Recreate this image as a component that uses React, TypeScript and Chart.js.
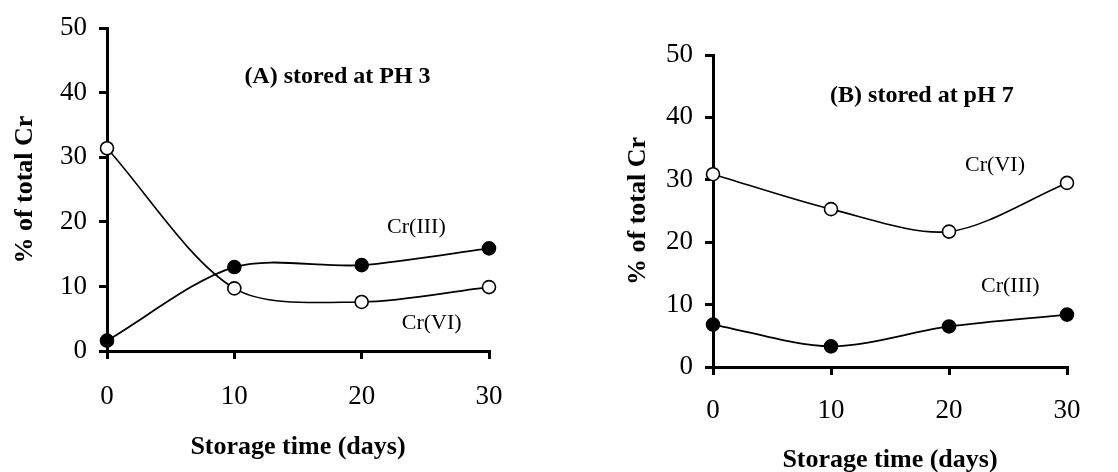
import React, { useEffect, useRef } from 'react';
import { Chart, registerables } from 'chart.js';
Chart.register(...registerables);

const days = [0, 10, 20, 30];
const crVI_A = [31.4, 9.7, 7.6, 9.9];
const crIII_A = [1.6, 13.0, 13.3, 15.9];
const crVI_B = [30.9, 25.3, 21.7, 29.5];
const crIII_B = [6.8, 3.3, 6.5, 8.4];
const yTickValues = [0, 10, 20, 30, 40, 50];
const xTickValues = [0, 10, 20, 30];

const FAMILY = "'Liberation Serif', 'DejaVu Serif', serif";

const textPlugin = {
  id: 'panelText',
  afterDatasetsDraw(chart: any, _args: any, opts: any) {
    const { ctx, scales } = chart;
    const x = scales.x, y = scales.y;
    ctx.save();
    ctx.fillStyle = '#000';
    ctx.textAlign = 'center';
    ctx.textBaseline = 'middle';
    for (const t of opts.items || []) {
      ctx.font = `${t.bold ? 'bold ' : ''}${t.size}px ${FAMILY}`;
      ctx.fillText(t.text, x.getPixelForValue(t.x), y.getPixelForValue(t.y));
    }
    ctx.restore();
  },
};

type Panel = {
  left: number;
  width: number;
  height: number;
  area: { left: number; right: number; top: number; bottom: number };
  vi: number[];
  iii: number[];
  texts: any[];
  yTitlePad: number;
  xTitlePad: number;
  xTickPad: number;
  yTickPad: number;
};

const panels: Panel[] = [
  {
    left: 0, width: 530, height: 472,
    area: { left: 107, right: 489, top: 26, bottom: 351 },
    vi: crVI_A, iii: crIII_A,
    texts: [
      { text: '(A) stored at PH 3', x: 18.1, y: 42.5, size: 24, bold: true },
      { text: 'Cr(III)', x: 24.3, y: 19.2, size: 22 },
      { text: 'Cr(VI)', x: 25.5, y: 4.3, size: 22 },
    ],
    yTitlePad: 12, xTitlePad: 12, xTickPad: 22, yTickPad: 12,
  },
  {
    left: 560, width: 558, height: 472,
    area: { left: 153, right: 507, top: 55, bottom: 367 },
    vi: crVI_B, iii: crIII_B,
    texts: [
      { text: '(B) stored at pH 7', x: 17.7, y: 43.5, size: 24, bold: true },
      { text: 'Cr(VI)', x: 23.9, y: 32.3, size: 22 },
      { text: 'Cr(III)', x: 25.2, y: 12.9, size: 22 },
    ],
    yTitlePad: 65, xTitlePad: -1, xTickPad: 20, yTickPad: 12,
  },
];

function PanelChart({ p }: { p: Panel }) {
  const ref = useRef<HTMLCanvasElement>(null);
  useEffect(() => {
    if (!ref.current) return;
    const grid = {
      drawOnChartArea: false,
      drawTicks: true,
      tickLength: 8,
      tickWidth: 3,
      tickColor: '#000',
      color: '#000',
      lineWidth: 3,
    };
    const border = { display: true, color: '#000', width: 3 };
    const mk = (vals: number[]) => days.map((d, i) => ({ x: d, y: vals[i] }));
    const chart = new Chart(ref.current, {
      type: 'line',
      data: {
        datasets: [
          {
            label: 'Cr(VI)',
            data: mk(p.vi),
            borderColor: '#000',
            borderWidth: 1.6,
            tension: 0.3,
            pointRadius: 6.5,
            pointBackgroundColor: '#fff',
            pointBorderColor: '#000',
            pointBorderWidth: 1.6,
            clip: false as any,
          },
          {
            label: 'Cr(III)',
            data: mk(p.iii),
            borderColor: '#000',
            borderWidth: 1.8,
            tension: 0.3,
            pointRadius: 6.5,
            pointBackgroundColor: '#000',
            pointBorderColor: '#000',
            pointBorderWidth: 1.6,
            clip: false as any,
          },
        ],
      },
      options: {
        animation: false,
        responsive: false,
        layout: {
          padding: {
            left: 0,
            top: p.area.top,
            right: p.width - p.area.right,
            bottom: 0,
          },
        },
        plugins: {
          legend: { display: false },
          tooltip: { enabled: false },
          panelText: { items: p.texts },
        } as any,
        scales: {
          x: {
            type: 'linear',
            min: 0,
            max: 30,
            afterBuildTicks: (s: any) => {
              s.ticks = xTickValues.map((v) => ({ value: v }));
            },
            ticks: {
              padding: p.xTickPad,
              color: '#000',
              font: { family: FAMILY, size: 27 },
            },
            grid,
            border,
            title: {
              display: true,
              text: 'Storage time (days)',
              color: '#000',
              font: { family: FAMILY, size: 26, weight: 'bold', lineHeight: 1 },
              padding: { top: 0, bottom: p.xTitlePad },
            },
            afterFit: (s: any) => {
              s.height = p.height - p.area.bottom;
            },
          },
          y: {
            type: 'linear',
            min: 0,
            max: 50,
            afterBuildTicks: (s: any) => {
              s.ticks = yTickValues.map((v) => ({ value: v }));
            },
            ticks: {
              padding: p.yTickPad,
              color: '#000',
              font: { family: FAMILY, size: 27 },
            },
            grid,
            border,
            title: {
              display: true,
              text: '% of total Cr',
              color: '#000',
              font: { family: FAMILY, size: 26, weight: 'bold', lineHeight: 1 },
              padding: { top: p.yTitlePad, bottom: 0 },
            },
            afterFit: (s: any) => {
              s.width = p.area.left;
            },
          },
        } as any,
      },
      plugins: [textPlugin as any],
    });
    return () => chart.destroy();
  }, [p]);
  return (
    <div style={{ position: 'absolute', left: p.left, top: 0, width: p.width, height: p.height }}>
      <canvas ref={ref} width={p.width} height={p.height} style={{ display: 'block' }} />
    </div>
  );
}

export default function App() {
  return (
    <div style={{ position: 'absolute', left: 0, top: 0, width: 1118, height: 472, background: '#fff', overflow: 'hidden' }}>
      {panels.map((p, i) => (
        <PanelChart key={i} p={p} />
      ))}
    </div>
  );
}
